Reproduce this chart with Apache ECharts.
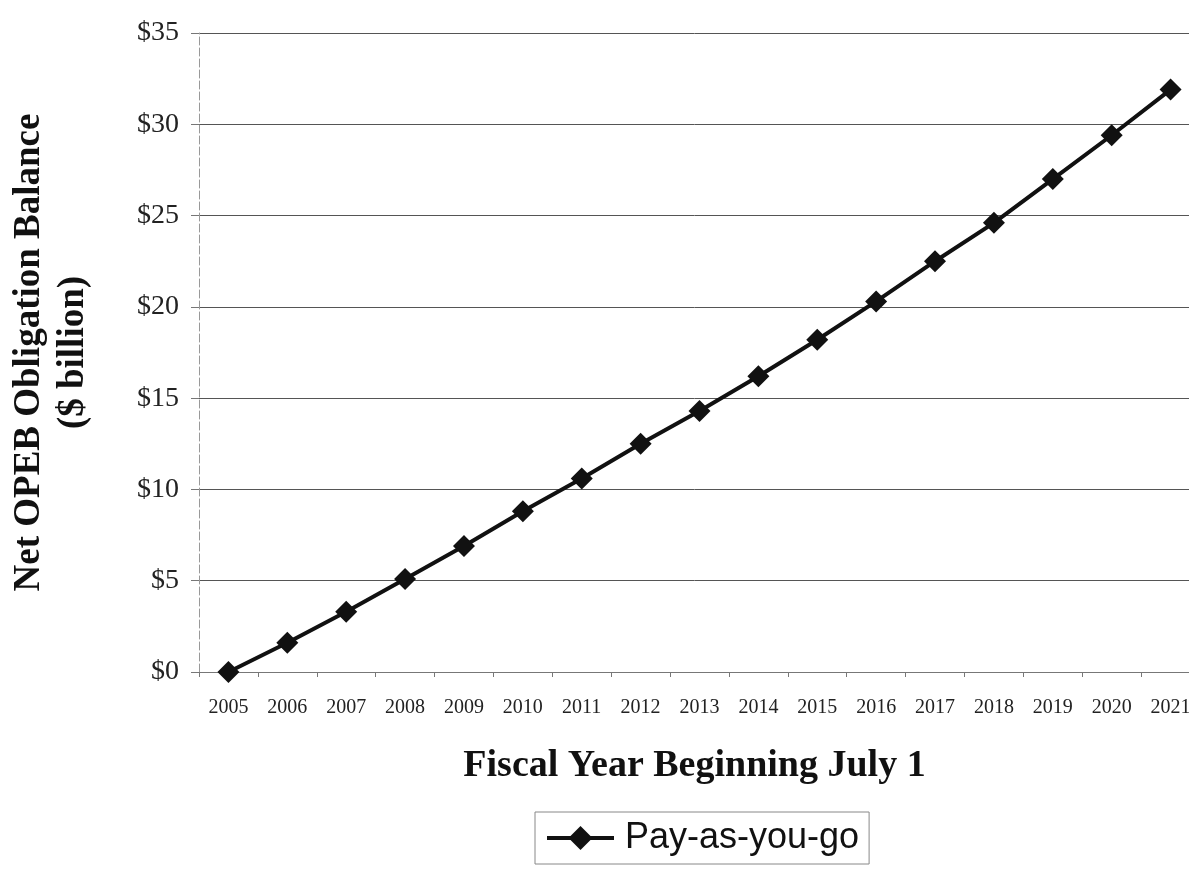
<!DOCTYPE html>
<html>
<head>
<meta charset="utf-8">
<script src="https://cdn.jsdelivr.net/npm/echarts@6/dist/echarts.min.js"></script>
<style>html,body{margin:0;padding:0;background:#fff;}#c{width:1189px;height:871px;}</style>
</head>
<body>
<div id="c"></div>
<script>
const years = ['2005','2006','2007','2008','2009','2010','2011','2012','2013','2014','2015','2016','2017','2018','2019','2020','2021'];
const payAsYouGo = [0, 1.6, 3.3, 5.1, 6.9, 8.8, 10.6, 12.5, 14.3, 16.2, 18.2, 20.3, 22.5, 24.6, 27.0, 29.4, 31.9];
const seriesName = 'Pay-as-you-go';
const yTitle = 'Net OPEB Obligation Balance\n($ billion)';
const xTitle = 'Fiscal Year Beginning July 1';

const chart = echarts.init(document.getElementById('c'), null, {renderer: 'canvas'});
chart.setOption({
  animation: false,
  backgroundColor: '#fff',
  grid: {left: 199, top: 33, bottom: 199, right: -11, containLabel: false, outerBoundsMode: 'none'},
  xAxis: {
    type: 'category',
    data: years,
    boundaryGap: true,
    name: xTitle,
    nameLocation: 'middle',
    nameGap: 75,
    nameTextStyle: {fontFamily: 'Liberation Serif', fontWeight: 'bold', fontSize: 38, color: '#111', padding: [0, 10, 0, 0]},
    axisLine: {lineStyle: {color: '#777', width: 1}},
    axisTick: {show: true, length: 5, lineStyle: {color: '#777'}},
    axisLabel: {fontFamily: 'Liberation Serif', fontSize: 20, color: '#222', margin: 26, interval: 0},
    splitLine: {show: false}
  },
  yAxis: {
    type: 'value',
    min: 0, max: 35, interval: 5,
    name: yTitle,
    nameLocation: 'middle',
    nameGap: 104,
    nameRotate: 90,
    nameTextStyle: {fontFamily: 'Liberation Serif', fontWeight: 'bold', fontSize: 37, color: '#111', lineHeight: 44, align: 'center'},
    axisLine: {show: true, lineStyle: {color: '#999', width: 1, type: [8, 3]}},
    axisTick: {show: true, length: 8, lineStyle: {color: '#777'}},
    axisLabel: {fontFamily: 'Liberation Serif', fontSize: 28, color: '#222', margin: 20, formatter: v => '$' + v},
    splitLine: {lineStyle: {color: '#555', width: 1}}
  },
  legend: {
    left: 535, top: 812,
    padding: [8, 10, 8, 10],
    borderColor: '#888', borderWidth: 1,
    itemWidth: 67, itemHeight: 30, itemGap: 16,
    lineStyle: {width: 4, color: '#111'},
    textStyle: {fontFamily: 'Liberation Sans', fontSize: 36, color: '#111', padding: [0, 0, 0, 6]},
    data: [seriesName]
  },
  series: [{
    name: seriesName,
    type: 'line',
    data: payAsYouGo,
    symbol: 'diamond',
    symbolSize: 22,
    lineStyle: {color: '#111', width: 4},
    itemStyle: {color: '#111'}
  }]
});
</script>
</body>
</html>
